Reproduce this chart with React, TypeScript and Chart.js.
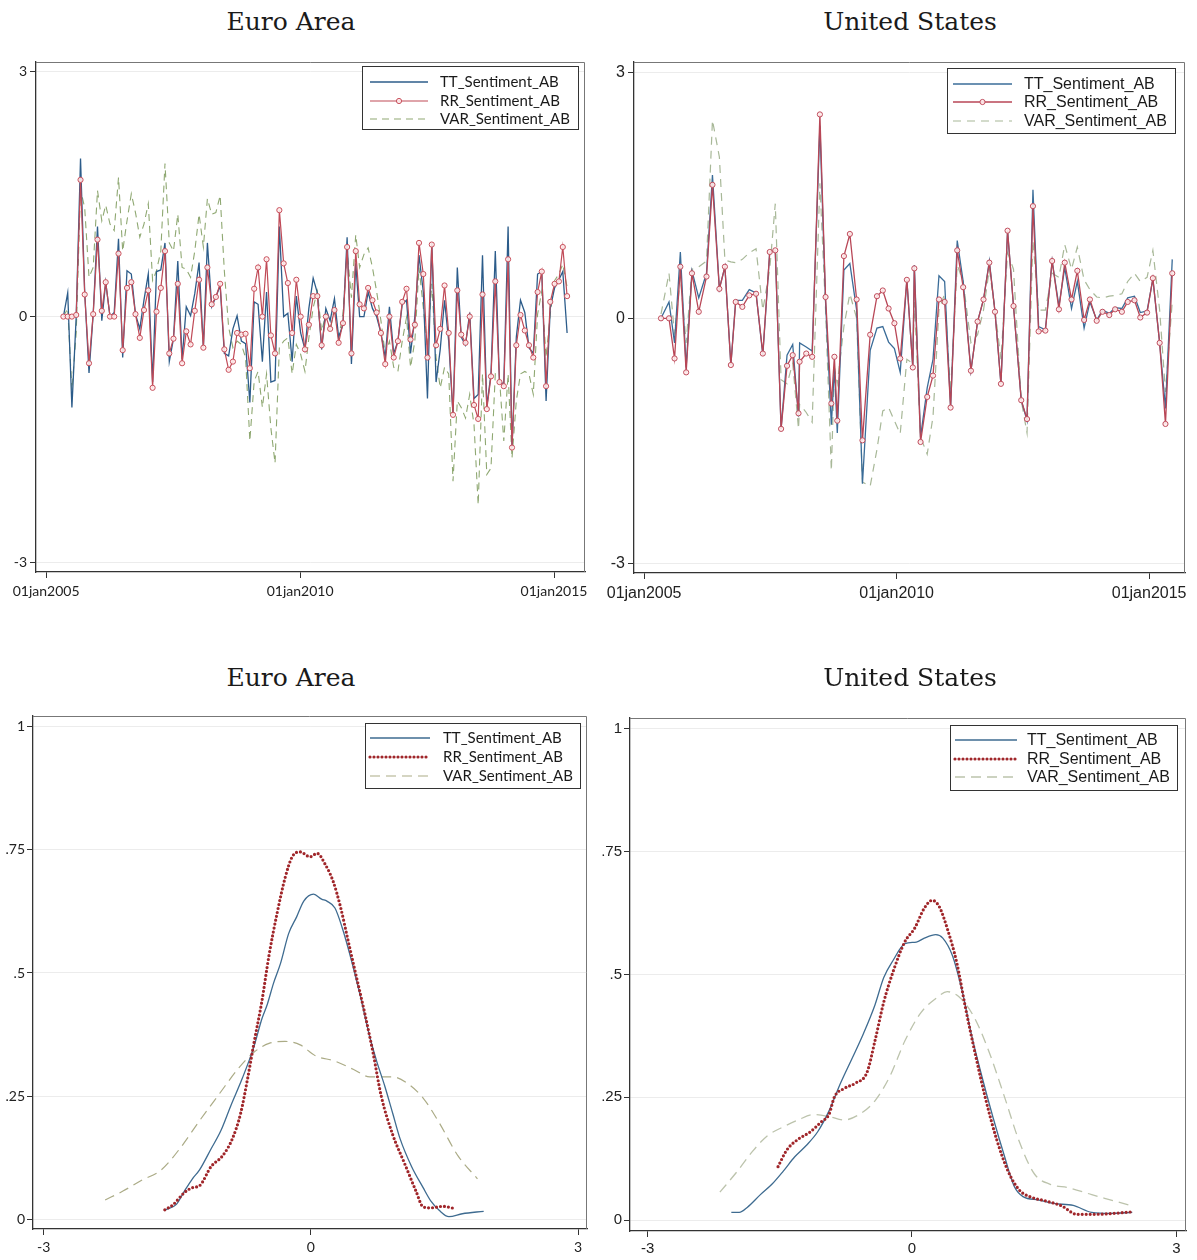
import React, { useEffect, useRef } from 'react';
import { Chart, registerables } from 'chart.js';
Chart.register(...registerables);

// ---------------- DATA ----------------
const seriesNames = ['TT_Sentiment_AB', 'RR_Sentiment_AB', 'VAR_Sentiment_AB'];
const panelTitles = ['Euro Area', 'United States', 'Euro Area', 'United States'];

const timeTickYears = [2005, 2010, 2015];
const timeTickLabels = ['01jan2005', '01jan2010', '01jan2015'];
const tsYTicks = [-3, 0, 3];
const tsYLabels = ['-3', '0', '3'];
const densXTicks = [-3, 0, 3];
const densXLabels = ['-3', '0', '3'];
const densYTicks = [0, 0.25, 0.5, 0.75, 1];
const densYLabels = ['0', '.25', '.5', '.75', '1'];

// Euro Area: monthly ECB meetings starting May 2005
const euStartYear = 2005;
const euStartMonth = 5;
const euTT = [
  0, 0.29, -1.11, 0.0, 1.93, 0.3, -0.69, 0.03, 1.1, -0.05,
  0.42, 0.0, 0.05, 0.95, -0.5, 0.56, 0.52, 0.03, -0.15, 0.2,
  0.52, -0.8, 0.55, 0.57, 0.9, -0.55, -0.27, 0.68, -0.52, 0.12,
  0.01, 0.28, 0.66, -0.38, 0.9, 0.12, 0.24, 0.38, -0.45, -0.48,
  -0.15, 0.01, -0.3, -0.33, -1.05, 0.18, 0.15, -0.55, 0.3, -0.8,
  -0.78, 1.1, 0.0, 0.04, -0.55, 0.25, -0.2, -0.4, 0.1, 0.47,
  0.29, -0.4, 0.1, -0.05, 0.22, -0.25, -0.1, 0.97, -0.58, 0.65,
  0.0, 0.0, 0.3, 0.1, 0.0, -0.2, -0.5, 0.12, -0.45, -0.3,
  0.15, 0.2, -0.45, 0.0, 0.75, 0.3, -1.0, 0.9, -0.8, -0.4,
  0.2, -0.3, -1.2, 0.6, -0.25, -0.35, 0.05, -1.0, -0.95, 0.75,
  -1.1, -0.7, 0.8, -0.8, -0.82, 1.1, -1.6, -0.25, 0.2, 0.05,
  -0.38, -0.45, 0.52, 0.55, -1.03, 0.1, 0.35, 0.45, 0.55, -0.2,
];
const euRR = [
  0, 0, 0, 0.02, 1.67, 0.27, -0.57, 0.03, 0.94, 0.07,
  0.42, 0.0, 0.0, 0.77, -0.41, 0.35, 0.42, 0.03, -0.26, 0.08,
  0.32, -0.87, 0.06, 0.35, 0.8, -0.45, -0.27, 0.4, -0.57, -0.18,
  -0.34, 0.07, 0.45, -0.38, 0.6, 0.15, 0.24, 0.4, -0.4, -0.65,
  -0.55, -0.2, -0.22, -0.21, -0.63, 0.34, 0.6, 0.0, 0.7, -0.23,
  -0.45, 1.3, 0.65, 0.41, -0.2, 0.45, 0.0, -0.4, -0.1, 0.25,
  0.25, -0.35, 0.0, -0.15, 0.08, -0.32, -0.08, 0.85, -0.45, 0.8,
  0.15, 0.1, 0.35, 0.2, 0.05, -0.2, -0.58, 0.0, -0.5, -0.3,
  0.18, 0.34, -0.28, -0.1, 0.9, 0.52, -0.5, 0.88, -0.35, -0.15,
  0.38, -0.2, -1.2, 0.32, -0.22, -0.32, 0.0, -1.08, -1.25, 0.27,
  -1.13, -0.73, 0.43, -0.8, -0.85, 0.7, -1.6, -0.35, 0.02, -0.17,
  -0.35, -0.5, 0.3, 0.55, -0.85, 0.18, 0.4, 0.43, 0.85, 0.25,
];
const euVAR = [
  0.0, 0.1, -0.9, -0.2, 1.55, 1.33, 0.48, 0.6, 1.54, 1.17,
  1.36, 1.13, 1.05, 1.7, 0.8, 1.17, 1.5, 1.27, 0.97, 1.13,
  1.38, 0.44, 0.56, 0.8, 1.87, 0.9, 0.8, 1.25, 0.6, 0.58,
  0.48, 0.8, 1.25, 0.85, 1.44, 1.25, 1.27, 1.48, 0.56, -0.13,
  -0.38, -0.3, -0.34, -0.5, -1.52, -0.79, -0.67, -1.11, -0.7, -1.36,
  -1.79, -0.38, -0.3, -0.26, -0.7, -0.34, -0.46, -0.67, -0.26, 0.11,
  0.31, -0.18, 0.03, -0.18, 0.11, -0.26, 0.03, 0.8, 0.23, 1.0,
  0.6, 0.76, 0.84, 0.6, 0.31, -0.05, -0.46, -0.3, -0.62, -0.67,
  -0.3, -0.01, -0.62, -0.3, 0.6, 0.11, -0.38, 0.4, -0.5, -0.87,
  -0.62, -0.7, -2.01, -1.03, -1.11, -1.24, -0.95, -1.32, -2.3, -0.7,
  -1.93, -1.85, -0.7, -0.75, -1.52, -0.7, -1.73, -1.03, -0.7, -0.67,
  -0.7, -0.95, 0.03, 0.31, -0.5, 0.03, 0.44, 0.52, 0.64, 0.36,
];

// United States: FOMC meeting dates
const usDates = [
  '2005-05-03', '2005-06-30', '2005-08-09', '2005-09-20', '2005-11-01', '2005-12-13',
  '2006-01-31', '2006-03-28', '2006-05-10', '2006-06-29', '2006-08-08', '2006-09-20', '2006-10-25', '2006-12-12',
  '2007-01-31', '2007-03-21', '2007-05-09', '2007-06-28', '2007-08-07', '2007-09-18', '2007-10-31', '2007-12-11',
  '2008-01-22', '2008-01-30', '2008-03-18', '2008-04-30', '2008-06-25', '2008-08-05', '2008-09-16', '2008-10-08', '2008-10-29', '2008-12-16',
  '2009-01-28', '2009-03-18', '2009-04-29', '2009-06-24', '2009-08-12', '2009-09-23', '2009-11-04', '2009-12-16',
  '2010-01-27', '2010-03-16', '2010-04-28', '2010-05-09', '2010-06-23', '2010-08-10', '2010-09-21', '2010-11-03', '2010-12-14',
  '2011-01-26', '2011-03-15', '2011-04-27', '2011-06-22', '2011-08-09', '2011-09-21', '2011-11-02', '2011-12-13',
  '2012-01-25', '2012-03-13', '2012-04-25', '2012-06-20', '2012-08-01', '2012-09-13', '2012-10-24', '2012-12-12',
  '2013-01-30', '2013-03-20', '2013-05-01', '2013-06-19', '2013-07-31', '2013-09-18', '2013-10-30', '2013-12-18',
  '2014-01-29', '2014-03-19', '2014-04-30', '2014-06-18', '2014-07-30', '2014-09-17', '2014-10-29', '2014-12-17',
  '2015-01-28', '2015-03-18', '2015-04-29', '2015-06-17',
];
const usTT = [
  0.0, 0.2, -0.3, 0.81, -0.6, 0.58, 0.25, 0.55, 1.75, 0.36,
  0.63, -0.57, 0.22, 0.22, 0.35, 0.31, -0.45, 0.81, 0.83, -1.35,
  -0.45, -0.32, -1.2, -0.3, -0.35, -0.4, 2.35, 0.2, -1.3, -0.6,
  -1.4, 0.59, 0.67, 0.1, -2.02, -0.39, -0.12, -0.1, -0.29, -0.37,
  -0.66, 0.47, -0.6, 0.65, -1.45, -0.85, -0.5, 0.52, 0.45, -1.09,
  0.95, 0.45, -0.64, -0.04, 0.23, 0.7, 0.08, -0.8, 1.07, 0.15,
  -1.0, -1.25, 1.57, -0.1, -0.14, 0.7, 0.15, 0.62, 0.12, 0.45,
  -0.12, 0.2, -0.02, 0.1, 0.06, 0.13, 0.12, 0.25, 0.27, 0.07,
  0.09, 0.48, -0.3, -1.1, 0.72,
];
const usRR = [
  0.0, 0.0, -0.49, 0.63, -0.66, 0.55, 0.08, 0.51, 1.63, 0.36,
  0.63, -0.57, 0.2, 0.14, 0.28, 0.3, -0.43, 0.81, 0.83, -1.35,
  -0.58, -0.45, -1.16, -0.53, -0.43, -0.47, 2.49, 0.26, -1.04, -0.47,
  -1.25, 0.76, 1.03, 0.23, -1.49, -0.2, 0.27, 0.34, 0.12, -0.06,
  -0.49, 0.47, -0.6, 0.61, -1.51, -0.96, -0.7, 0.23, 0.2, -1.09,
  0.83, 0.38, -0.64, -0.04, 0.23, 0.68, 0.08, -0.8, 1.07, 0.15,
  -1.0, -1.23, 1.37, -0.16, -0.15, 0.7, 0.11, 0.68, 0.23, 0.58,
  -0.02, 0.23, -0.03, 0.08, 0.04, 0.11, 0.08, 0.2, 0.22, 0.01,
  0.07, 0.49, -0.3, -1.29, 0.55,
];
const usVAR = [
  0.05, 0.55, -0.2, 0.5, -0.3, 0.6, 0.63, 0.7, 2.42, 1.97,
  0.71, 0.69, 0.68, 0.72, 0.8, 0.85, 0.1, 0.6, 1.4, -0.75,
  -0.8, -0.55, -1.35, -1.05, -1.15, -1.27, 1.65, 0.1, -1.86, -0.6,
  -0.8, -0.1, 0.3, 0.0, -2.0, -2.05, -1.6, -1.13, -1.09, -1.25,
  -1.41, -0.5, -0.55, 0.2, -1.45, -1.66, -1.2, 0.1, 0.3, -0.9,
  0.65, 0.45, -0.3, -0.2, 0.1, 0.6, 0.1, -0.5, 0.8, 0.6,
  -1.0, -1.4, 0.95, 0.1, 0.1, 0.55, 0.5, 0.9, 0.6, 0.87,
  0.47, 0.35, 0.26, 0.25, 0.27, 0.28, 0.3, 0.45, 0.55, 0.45,
  0.5, 0.83, 0.1, -0.9, 0.2,
];

// Kernel densities – Euro Area
const euDensTTx = [-1.65, -1.51, -1.42, -1.33, -1.25, -1.12, -1.01, -0.9, -0.77, -0.64, -0.55, -0.49, -0.42, -0.34, -0.25, -0.16, -0.08, 0.03, 0.12, 0.18, 0.27, 0.35, 0.44, 0.55, 0.66, 0.74, 0.83, 0.92, 1.0, 1.13, 1.26, 1.35, 1.44, 1.55, 1.7, 1.94];
const euDensTTy = [0.018, 0.03, 0.057, 0.082, 0.1, 0.143, 0.18, 0.23, 0.286, 0.35, 0.407, 0.436, 0.479, 0.52, 0.58, 0.614, 0.646, 0.66, 0.65, 0.646, 0.632, 0.593, 0.536, 0.457, 0.371, 0.32, 0.27, 0.214, 0.164, 0.107, 0.064, 0.036, 0.018, 0.005, 0.011, 0.016];
const euDensRRx = [-1.64, -1.55, -1.42, -1.33, -1.25, -1.12, -0.99, -0.88, -0.79, -0.71, -0.64, -0.55, -0.47, -0.38, -0.29, -0.21, -0.12, -0.01, 0.07, 0.16, 0.25, 0.33, 0.42, 0.51, 0.61, 0.7, 0.79, 0.92, 1.05, 1.18, 1.26, 1.35, 1.48, 1.63];
const euDensRRy = [0.019, 0.029, 0.054, 0.064, 0.068, 0.107, 0.129, 0.164, 0.214, 0.286, 0.357, 0.443, 0.536, 0.621, 0.693, 0.736, 0.746, 0.736, 0.743, 0.721, 0.686, 0.636, 0.564, 0.493, 0.414, 0.336, 0.25, 0.171, 0.114, 0.057, 0.025, 0.023, 0.026, 0.021];
const euDensVARx = [-2.31, -2.11, -1.9, -1.68, -1.46, -1.25, -1.03, -0.81, -0.64, -0.47, -0.29, -0.12, 0.05, 0.27, 0.48, 0.66, 0.92, 1.09, 1.26, 1.44, 1.65, 1.87];
const euDensVARy = [0.039, 0.057, 0.079, 0.1, 0.146, 0.2, 0.254, 0.307, 0.339, 0.357, 0.361, 0.354, 0.332, 0.321, 0.304, 0.289, 0.289, 0.275, 0.246, 0.196, 0.129, 0.082];

// Kernel densities – United States
const usDensTTx = [-2.05, -1.96, -1.87, -1.72, -1.59, -1.46, -1.33, -1.2, -1.07, -0.94, -0.81, -0.68, -0.55, -0.42, -0.32, -0.21, -0.08, 0.05, 0.14, 0.27, 0.35, 0.46, 0.57, 0.68, 0.79, 0.92, 1.05, 1.16, 1.26, 1.44, 1.61, 1.83, 2.04, 2.26, 2.5];
const usDensTTy = [0.016, 0.016, 0.026, 0.052, 0.073, 0.1, 0.129, 0.152, 0.18, 0.223, 0.279, 0.329, 0.38, 0.438, 0.494, 0.53, 0.563, 0.566, 0.574, 0.581, 0.574, 0.538, 0.466, 0.374, 0.295, 0.209, 0.13, 0.069, 0.048, 0.041, 0.034, 0.03, 0.016, 0.014, 0.016];
const usDensRRx = [-1.52, -1.42, -1.29, -1.16, -1.03, -0.94, -0.88, -0.77, -0.64, -0.51, -0.42, -0.32, -0.21, -0.08, 0.03, 0.14, 0.23, 0.31, 0.4, 0.51, 0.61, 0.72, 0.83, 0.96, 1.09, 1.22, 1.35, 1.52, 1.7, 1.87, 2.09, 2.3, 2.5];
const usDensRRy = [0.109, 0.143, 0.165, 0.179, 0.2, 0.216, 0.251, 0.268, 0.279, 0.301, 0.365, 0.444, 0.508, 0.567, 0.594, 0.635, 0.651, 0.638, 0.594, 0.523, 0.43, 0.337, 0.251, 0.165, 0.1, 0.061, 0.047, 0.039, 0.029, 0.012, 0.012, 0.014, 0.017];
const usDensVARx = [-2.18, -1.98, -1.81, -1.64, -1.46, -1.29, -1.12, -0.94, -0.77, -0.6, -0.42, -0.25, -0.08, 0.1, 0.27, 0.4, 0.53, 0.7, 0.87, 1.05, 1.22, 1.39, 1.57, 1.78, 2.04, 2.26, 2.48];
const usDensVARy = [0.057, 0.1, 0.14, 0.172, 0.19, 0.204, 0.215, 0.211, 0.204, 0.215, 0.243, 0.293, 0.365, 0.422, 0.451, 0.465, 0.455, 0.415, 0.345, 0.251, 0.159, 0.094, 0.073, 0.066, 0.052, 0.041, 0.03];

// ---------------- HELPERS ----------------
function decYear(y: number, m: number, d: number) {
  const t = Date.UTC(y, m - 1, d);
  const t0 = Date.UTC(y, 0, 1);
  const t1 = Date.UTC(y + 1, 0, 1);
  return y + (t - t0) / (t1 - t0);
}
function parseDate(s: string) {
  const [y, m, d] = s.split('-').map(Number);
  return decYear(y, m, d);
}
const euX = euRR.map((_, i) => {
  const m = euStartMonth - 1 + i;
  return decYear(euStartYear + Math.floor(m / 12), (m % 12) + 1, 5);
});
const usX = usDates.map(parseDate);
const pts = (xs: number[], ys: number[]) => xs.map((x, i) => ({ x, y: ys[i] }));

// ---------------- PLUGINS ----------------
const framePlugin = {
  id: 'frame',
  beforeDatasetsDraw(chart: any) {
    const { ctx, chartArea: a } = chart;
    ctx.save();
    ctx.strokeStyle = '#777';
    ctx.lineWidth = 1;
    ctx.beginPath();
    const l = Math.round(a.left), t = Math.round(a.top) + 0.5, r = Math.round(a.right) - 0.5, b = Math.round(a.bottom);
    ctx.moveTo(l, t);
    ctx.lineTo(r, t);
    ctx.lineTo(r, b);
    ctx.stroke();
    ctx.restore();
  },
};

const boxLegendPlugin = {
  id: 'boxLegend',
  afterDraw(chart: any, _args: any, o: any) {
    if (!o || !o.rows) return;
    const ctx = chart.ctx;
    ctx.save();
    ctx.fillStyle = '#fff';
    ctx.fillRect(o.x, o.y, o.w, o.h);
    ctx.strokeStyle = '#333';
    ctx.lineWidth = 1;
    ctx.strokeRect(o.x + 0.5, o.y + 0.5, o.w, o.h);
    chart.data.datasets.forEach((ds: any, i: number) => {
      const y = o.rows[i];
      ctx.save();
      ctx.strokeStyle = ds.borderColor;
      ctx.lineWidth = ds.borderWidth;
      ctx.setLineDash(ds.borderDash || []);
      ctx.lineCap = ds.borderCapStyle || 'butt';
      ctx.beginPath();
      ctx.moveTo(o.sx0, y);
      ctx.lineTo(o.sx1, y);
      ctx.stroke();
      ctx.restore();
      if (ds.pointRadius > 0) {
        ctx.beginPath();
        ctx.arc((o.sx0 + o.sx1) / 2, y, ds.pointRadius, 0, Math.PI * 2);
        ctx.fillStyle = ds.pointBackgroundColor;
        ctx.fill();
        ctx.strokeStyle = ds.pointBorderColor;
        ctx.lineWidth = ds.pointBorderWidth;
        ctx.stroke();
      }
      ctx.fillStyle = '#1a1a1a';
      ctx.font = o.font;
      ctx.textAlign = 'left';
      ctx.textBaseline = 'middle';
      ctx.fillText(ds.label, o.tx, y + 0.5);
    });
    ctx.restore();
  },
};

// ---------------- PANELS ----------------
type Panel = {
  left: number; top: number; width: number; height: number;
  area: [number, number, number, number];
  xRange: [number, number]; yRange: [number, number];
  xTicks: number[]; xLabels: string[]; yTicks: number[]; yLabels: string[];
  tickFont: { family: string; size: number };
  xPad: number; yPad: number; tickLen: number;
  legend: any;
  datasets: any[];
  title: string; titleX: number; titleY: number;
};

const leftFont = 'Lato';
const rightFont = '"Liberation Sans"';

const panels: Panel[] = [
  {
    left: 0, top: 50, width: 600, height: 560,
    area: [36, 12, 585, 522],
    xRange: [2004.8, 2015.61], yRange: [-3.12, 3.11],
    xTicks: timeTickYears, xLabels: timeTickLabels, yTicks: tsYTicks, yLabels: tsYLabels,
    tickFont: { family: leftFont, size: 14 }, xPad: 5, yPad: 3, tickLen: 6,
    legend: { x: 362, y: 16, w: 216, h: 63, rows: [32, 51, 69], sx0: 370, sx1: 428, tx: 440, font: '15px Lato' },
    datasets: [
      { label: seriesNames[0], data: pts(euX, euTT), borderColor: '#2c5c8a', borderWidth: 1.3, pointRadius: 0, order: 1 },
      { label: seriesNames[1], data: pts(euX, euRR), borderColor: '#c04a57', borderWidth: 1.2, pointRadius: 2.6, pointBorderWidth: 1, pointBorderColor: '#c8505c', pointBackgroundColor: 'rgba(255,236,236,0.9)', order: 0 },
      { label: seriesNames[2], data: pts(euX, euVAR), borderColor: '#8fa872', borderWidth: 1.1, borderDash: [7, 5], pointRadius: 0, order: 2 },
    ],
    title: panelTitles[0], titleX: 291, titleY: 22,
  },
  {
    left: 598, top: 50, width: 599, height: 560,
    area: [36, 12, 587, 523],
    xRange: [2004.8, 2015.71], yRange: [-3.11, 3.13],
    xTicks: timeTickYears, xLabels: timeTickLabels, yTicks: tsYTicks, yLabels: tsYLabels,
    tickFont: { family: rightFont, size: 16 }, xPad: 5, yPad: 3, tickLen: 6,
    legend: { x: 349, y: 18, w: 228, h: 65, rows: [34, 52, 71], sx0: 355, sx1: 414, tx: 426, font: '16px "Liberation Sans"' },
    datasets: [
      { label: seriesNames[0], data: pts(usX, usTT), borderColor: '#3a6c98', borderWidth: 1.3, pointRadius: 0, order: 1 },
      { label: seriesNames[1], data: pts(usX, usRR), borderColor: '#b84656', borderWidth: 1.3, pointRadius: 2.6, pointBorderWidth: 1, pointBorderColor: '#bf4c5c', pointBackgroundColor: 'rgba(255,236,236,0.9)', order: 0 },
      { label: seriesNames[2], data: pts(usX, usVAR), borderColor: '#a8b898', borderWidth: 1.2, borderDash: [8, 6], pointRadius: 0, order: 2 },
    ],
    title: panelTitles[1], titleX: 910, titleY: 22,
  },
  {
    left: 0, top: 700, width: 600, height: 560,
    area: [33, 16, 587, 529],
    xRange: [-3.12, 3.1], yRange: [-0.02, 1.022],
    xTicks: densXTicks, xLabels: densXLabels, yTicks: densYTicks, yLabels: densYLabels,
    tickFont: { family: leftFont, size: 14 }, xPad: 4, yPad: 2, tickLen: 6,
    legend: { x: 365, y: 23, w: 215, h: 65, rows: [38, 57, 76], sx0: 370, sx1: 430, tx: 443, font: '15px Lato' },
    datasets: [
      { label: seriesNames[0], data: pts(euDensTTx, euDensTTy), borderColor: '#3e6b90', borderWidth: 1.3, pointRadius: 0, cubicInterpolationMode: 'monotone', order: 1 },
      { label: seriesNames[1], data: pts(euDensRRx, euDensRRy), borderColor: '#a0262a', borderWidth: 3.2, borderDash: [0, 4], borderCapStyle: 'round', pointRadius: 0, cubicInterpolationMode: 'monotone', order: 0 },
      { label: seriesNames[2], data: pts(euDensVARx, euDensVARy), borderColor: '#abab86', borderWidth: 1.2, borderDash: [10, 6], pointRadius: 0, cubicInterpolationMode: 'monotone', order: 2 },
    ],
    title: panelTitles[2], titleX: 291, titleY: 678,
  },
  {
    left: 598, top: 700, width: 599, height: 560,
    area: [32, 18, 588, 531],
    xRange: [-3.2, 3.11], yRange: [-0.022, 1.022],
    xTicks: densXTicks, xLabels: densXLabels, yTicks: densYTicks, yLabels: densYLabels,
    tickFont: { family: rightFont, size: 15 }, xPad: 3, yPad: 2, tickLen: 6,
    legend: { x: 352, y: 25, w: 227, h: 65, rows: [40, 59, 77], sx0: 357, sx1: 419, tx: 429, font: '16px "Liberation Sans"' },
    datasets: [
      { label: seriesNames[0], data: pts(usDensTTx, usDensTTy), borderColor: '#3e6b90', borderWidth: 1.3, pointRadius: 0, cubicInterpolationMode: 'monotone', order: 1 },
      { label: seriesNames[1], data: pts(usDensRRx, usDensRRy), borderColor: '#a0262a', borderWidth: 3.2, borderDash: [0, 4], borderCapStyle: 'round', pointRadius: 0, cubicInterpolationMode: 'monotone', order: 0 },
      { label: seriesNames[2], data: pts(usDensVARx, usDensVARy), borderColor: '#bcc3ac', borderWidth: 1.3, borderDash: [10, 6], pointRadius: 0, cubicInterpolationMode: 'monotone', order: 2 },
    ],
    title: panelTitles[3], titleX: 910, titleY: 678,
  },
];

function buildConfig(p: Panel): any {
  const [aL, aT, aR, aB] = p.area;
  return {
    type: 'line',
    data: { datasets: p.datasets.map((d) => ({ tension: 0, fill: false, ...d })) },
    plugins: [framePlugin, boxLegendPlugin],
    options: {
      responsive: false,
      animation: false,
      events: [],
      layout: { padding: { left: 0, top: aT, right: p.width - aR, bottom: 0 } },
      plugins: {
        legend: { display: false },
        tooltip: { enabled: false },
        title: { display: false },
        boxLegend: p.legend,
      },
      scales: {
        x: {
          type: 'linear',
          min: p.xRange[0],
          max: p.xRange[1],
          afterBuildTicks: (s: any) => { s.ticks = p.xTicks.map((v) => ({ value: v })); },
          afterFit: (s: any) => { s.height = p.height - aB; s.paddingLeft = 0; s.paddingRight = 0; },
          ticks: {
            autoSkip: false, maxRotation: 0, minRotation: 0, padding: p.xPad, color: '#222',
            font: p.tickFont,
            callback: (_v: any, i: number) => p.xLabels[i],
          },
          grid: { display: true, drawOnChartArea: false, drawTicks: true, tickLength: p.tickLen, tickColor: '#333', tickWidth: 1 },
          border: { display: true, color: '#333', width: 1.3 },
        },
        y: {
          type: 'linear',
          min: p.yRange[0],
          max: p.yRange[1],
          afterBuildTicks: (s: any) => { s.ticks = p.yTicks.map((v) => ({ value: v })); },
          afterFit: (s: any) => { s.width = aL; s.paddingTop = 0; s.paddingBottom = 0; },
          ticks: {
            autoSkip: false, padding: p.yPad, color: '#222',
            font: p.tickFont,
            callback: (_v: any, i: number) => p.yLabels[i],
          },
          grid: { display: true, drawOnChartArea: true, color: '#ececec', lineWidth: 1, drawTicks: true, tickLength: p.tickLen, tickColor: '#333', tickWidth: 1 },
          border: { display: true, color: '#333', width: 1.3 },
        },
      },
    },
  };
}

function ChartPanel({ p }: { p: Panel }) {
  const ref = useRef<HTMLCanvasElement>(null);
  useEffect(() => {
    const chart = new Chart(ref.current as HTMLCanvasElement, buildConfig(p));
    return () => chart.destroy();
  }, [p]);
  return (
    <div style={{ position: 'absolute', left: p.left, top: p.top, width: p.width, height: p.height }}>
      <canvas ref={ref} width={p.width} height={p.height} style={{ width: p.width, height: p.height, display: 'block' }} />
    </div>
  );
}

function PanelTitle({ p }: { p: Panel }) {
  return (
    <div
      style={{
        position: 'absolute', left: p.titleX - 200, top: p.titleY - 16, width: 400, height: 32,
        lineHeight: '32px', textAlign: 'center', fontFamily: '"DejaVu Serif", serif', fontSize: 25, color: '#1a1a1a',
      }}
    >
      {p.title}
    </div>
  );
}

export default function App() {
  return (
    <div style={{ position: 'absolute', left: 0, top: 0, width: 1197, height: 1260, background: '#fff', overflow: 'hidden' }}>
      {panels.map((p, i) => (
        <React.Fragment key={i}>
          <ChartPanel p={p} />
          <PanelTitle p={p} />
        </React.Fragment>
      ))}
    </div>
  );
}
